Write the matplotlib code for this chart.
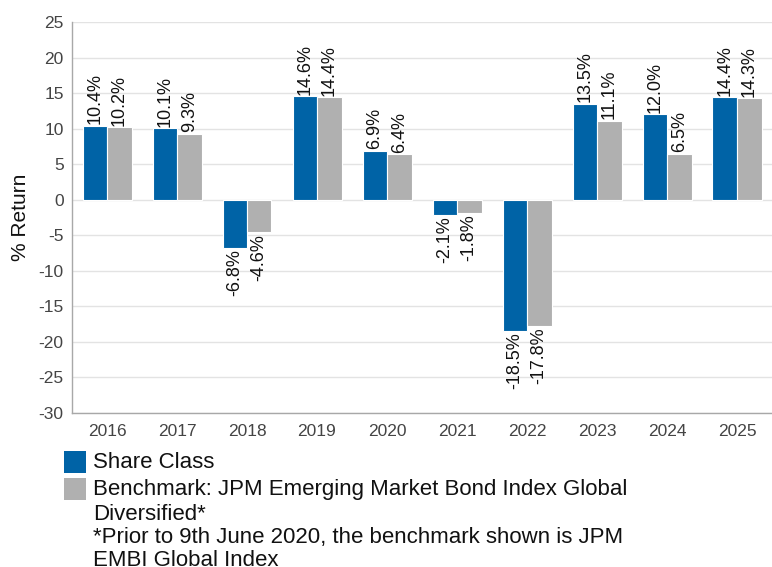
import matplotlib
matplotlib.use("Agg")
import matplotlib.pyplot as plt
from matplotlib.patches import Rectangle
import numpy as np

plt.rcParams['font.family'] = ['Liberation Sans', 'DejaVu Sans']

years = ["2016", "2017", "2018", "2019", "2020", "2021", "2022", "2023", "2024", "2025"]
share_class = [10.4, 10.1, -6.8, 14.6, 6.9, -2.1, -18.5, 13.5, 12.0, 14.4]
benchmark = [10.2, 9.3, -4.6, 14.4, 6.4, -1.8, -17.8, 11.1, 6.5, 14.3]
yticks = [25, 20, 15, 10, 5, 0, -5, -10, -15, -20, -25, -30]

blue = "#0063A6"
gray = "#B0B0B0"

fig = plt.figure(figsize=(7.72, 5.67), dpi=100)
ax = fig.add_axes([72/772, 1-413/567, 700/772, (413-22)/567])

x = np.arange(len(years))
w = 0.35
b1 = ax.bar(x - w/2, share_class, w, color=blue, edgecolor="white", linewidth=0.8, zorder=3)
b2 = ax.bar(x + w/2, benchmark, w, color=gray, edgecolor="white", linewidth=0.8, zorder=3)

for bars, vals in ((b1, share_class), (b2, benchmark)):
    for rect, v in zip(bars, vals):
        cx = rect.get_x() + rect.get_width()/2
        if v >= 0:
            ax.annotate(f"{v:.1f}%", (cx, v), xytext=(0, 1), textcoords="offset points",
                        rotation=90, ha="center", va="bottom", fontsize=13, color="#111111")
        else:
            ax.annotate(f"-{abs(v):.1f}%", (cx, v), xytext=(0, -1), textcoords="offset points",
                        rotation=90, ha="center", va="top", fontsize=13, color="#111111")

ax.set_xlim(-0.5, len(years) - 0.5)
ax.set_ylim(-30, 25)
ax.set_yticks(yticks)
ax.set_yticklabels([str(t) for t in yticks])
ax.set_xticks(x)
ax.set_xticklabels(years)
ax.tick_params(axis="both", length=0, labelsize=12.5, labelcolor="#444444")
ax.tick_params(axis="x", pad=8)
ax.tick_params(axis="y", pad=6)
ax.grid(axis="y", color="#E3E3E3", linewidth=1, zorder=0)
ax.set_axisbelow(True)
for s in ("top", "right"):
    ax.spines[s].set_visible(False)
for s in ("left", "bottom"):
    ax.spines[s].set_color("#A8A8A8")
    ax.spines[s].set_linewidth(1)
ax.set_ylabel("% Return", fontsize=15, color="#111111", labelpad=6)

# legend
def fx(px):
    return px / 772
def fy(py):
    return 1 - py / 567

fig.patches.append(Rectangle((fx(64), fy(473)), 22/772, 22/567, transform=fig.transFigure,
                             facecolor=blue, edgecolor="none"))
fig.patches.append(Rectangle((fx(64), fy(500)), 22/772, 22/567, transform=fig.transFigure,
                             facecolor=gray, edgecolor="none"))
lines = [("Share Class", 463), ("Benchmark: JPM Emerging Market Bond Index Global", 490),
         ("Diversified*", 514), ("*Prior to 9th June 2020, the benchmark shown is JPM", 537),
         ("EMBI Global Index", 560)]
for txt, py in lines:
    fig.text(fx(93), fy(py), txt, fontsize=16, color="#111111", ha="left", va="center")

fig.savefig("out.png", dpi=100)
